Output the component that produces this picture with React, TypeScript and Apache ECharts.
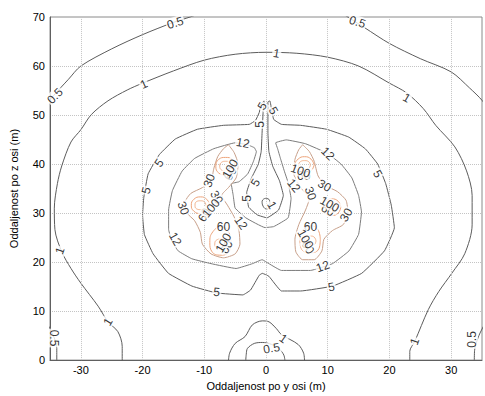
import { useEffect, useRef } from 'react';
import * as echarts from 'echarts';

const xTicks = [-30, -20, -10, 0, 10, 20, 30];
const xRange = [-35, 35];
const yRange = [0, 70];

// contour lines: [y (m), z (m)] points
const c05Top = [[-36, 51.5], [-34.4, 54], [-32, 57.3], [-30, 60], [-25, 63.5], [-20, 66.4], [-15, 68.9], [-12.3, 70], [-10, 71]];
const c05TopR = [[12, 71], [13.5, 69.8], [16, 67.8], [20, 64.6], [25, 61.5], [30, 58.8], [33, 55.5], [35, 53], [36, 51]];
const c05BotL = [[-35.5, 7.5], [-35, 6.4], [-34.3, 4.5], [-33.9, 2.4], [-33.9, -0.5]];
const c05BotR = [[33.75, -0.5], [33.8, 2], [34.5, 5], [35.5, 7.5]];
const c05Mid = [[-3.3, -0.5], [-3.2, 1.2], [-3.0, 2.4], [-1.9, 3.4], [-0.6, 3.6], [0.9, 3.2], [2.2, 2.2], [2.9, 1.0], [3.1, -0.5]];

const c1Outer = [[-23.3, -0.5], [-23.3, 2.8], [-24, 5.8], [-25.6, 7.8], [-27.2, 11], [-30, 15.7], [-31.6, 18.7], [-33.1, 22.1], [-34.2, 26.6], [-34.3, 31], [-33.8, 36], [-33.1, 39.6], [-31.6, 44.5], [-30, 47], [-28.3, 50.1], [-25.6, 52.9], [-22.5, 55.1], [-20, 56.5], [-15, 59], [-10, 61.2], [-5, 62.4], [0, 62.8], [5, 62.6], [10, 61.8], [15, 60], [20, 56.5], [22.8, 54.5], [25.5, 51.3], [27.5, 47.9], [30.6, 43.5], [32.5, 38.6], [33.4, 33.6], [33.4, 27.6], [32.2, 21.7], [30.1, 17.7], [28, 14], [26.3, 10.3], [24.1, 3.8], [23.3, 1.8], [23.3, -0.5]];
const c1Bot = [[-6.1, -0.5], [-5.9, 1.4], [-5, 3.4], [-3.4, 4.8], [-2.2, 7.2], [-0.6, 8], [0.5, 7.8], [1.7, 6.4], [2.5, 5.2], [5.2, 3.2], [6.1, 1.4], [6.25, -0.5]];
const c1Center = [[-0.16, 33.0], [0.47, 32.8], [0.63, 31.8], [0.16, 30.8], [-0.47, 31.4], [-0.63, 32.4]];

const c5 = [[-0.31, 52.88], [-0.47, 50.5], [-0.63, 46.52], [-0.78, 42.54], [-1.25, 39.96], [-2.34, 37.18], [-3.13, 34.19], [-2.81, 31.21], [-1.41, 29.62], [0.16, 29.03], [2.03, 30.62], [2.81, 33.6], [2.19, 36.58], [1.09, 39.56], [0.47, 42.54], [0.31, 46.52], [0.31, 50.5], [0.31, 52.68], [0.63, 52.88], [0.94, 50.9], [1.25, 49.1], [2.5, 48.1], [5.6, 47.9], [9.8, 47.1], [13.4, 45.5], [16.1, 43.1], [18.1, 40.0], [19.4, 36.0], [20.3, 31.6], [20.8, 27.0], [19.2, 22.3], [15.5, 17.7], [10.8, 15.1], [5.6, 14.1], [2.5, 14.1], [0.47, 17.1], [-0.6, 17.7], [-1.1, 17.3], [-2.5, 14.3], [-3.75, 13.3], [-8.0, 13.7], [-12.0, 15.1], [-15.8, 17.7], [-18.3, 21.7], [-19.7, 25.6], [-20.0, 29.6], [-19.8, 33.2], [-19.1, 38.0], [-17.3, 41.9], [-14.7, 45.1], [-11.1, 47.1], [-6.9, 47.9], [-2.7, 48.1], [-1.7, 48.9], [-1.1, 50.5], [-0.78, 52.3]];

const c12 = [[-1.88, 43.34], [-2.97, 43.94], [-5, 44.33], [-8.44, 43.14], [-11.56, 41.15], [-13.59, 38.57], [-15.16, 34.59], [-15.78, 30.62], [-15.78, 26.64], [-15.16, 24.06], [-14.22, 22.27], [-12.03, 20.68], [-8.91, 19.68], [-4.84, 18.69], [-2.19, 19.68], [-0.63, 20.48], [0.47, 19.68], [2.5, 18.29], [7.19, 18.29], [10.78, 19.68], [13.44, 22.27], [15, 25.65], [15.47, 30.22], [15, 33.6], [13.91, 37.18], [12.19, 39.96], [10, 42.15], [6.41, 44.14], [3.28, 44.93], [1.56, 44.33], [1.88, 43.14], [2.34, 41.15], [2.97, 38.57], [3.59, 36.18], [4.06, 33.0], [3.59, 29.03], [1.25, 27.24], [-0.16, 27.04], [-3.28, 29.03], [-5, 31.01], [-5.31, 33.6], [-5.63, 35.98], [-4.38, 36.38], [-2.97, 37.97], [-2.03, 40.56], [-1.56, 42.54]];

const c30L = [[-6.09, 43.94], [-5.16, 42.35], [-4.53, 39.96], [-4.84, 37.18], [-6.09, 35.19], [-7.19, 33.6], [-6.25, 31.61], [-5.16, 29.22], [-4.38, 26.44], [-4.22, 23.66], [-5, 21.67], [-6.88, 20.87], [-8.91, 21.67], [-10.31, 23.66], [-10.63, 26.04], [-11.56, 28.43], [-12.81, 30.02], [-13.13, 32.21], [-12.19, 34.0], [-10.31, 35.19], [-8.91, 36.58], [-8.44, 39.17], [-7.81, 41.55], [-6.88, 43.14]];
const c30R = [[5.94, 43.94], [7.03, 42.54], [7.81, 40.56], [8.44, 37.57], [9.69, 35.59], [11.56, 34.39], [12.97, 32.6], [13.28, 30.02], [12.5, 27.63], [10.78, 26.44], [9.38, 24.65], [9.06, 22.27], [7.81, 20.48], [5.94, 20.48], [4.84, 22.07], [4.69, 24.65], [5.31, 27.63], [6.41, 30.62], [7.03, 33.0], [5.63, 35.19], [4.53, 37.97], [4.69, 40.95], [5.31, 42.94]];

const c60P1 = [[-5, 39.56], [-5.47, 38.17], [-6.56, 37.77], [-7.66, 38.17], [-8.13, 39.56], [-7.66, 40.95], [-6.56, 41.35], [-5.47, 40.95]];
const c60P2 = [[-9.1, 31.6], [-9.6, 30.4], [-10.6, 29.9], [-11.7, 30.4], [-12.1, 31.6], [-11.7, 32.8], [-10.6, 33.3], [-9.6, 32.8]];
const c60P3 = [[-5.7, 24.0], [-5.9, 22.3], [-7.3, 21.4], [-8.8, 22.2], [-9.1, 24.0], [-8.6, 26.2], [-7.2, 27.2], [-6.0, 26.0]];
const c60P4 = [[7.8, 39.8], [7.3, 38.6], [6.25, 38.0], [5.2, 38.6], [4.7, 39.8], [5.2, 41.0], [6.25, 41.5], [7.3, 41.0]];
const c60P5 = [[12.1, 31.2], [11.7, 30.0], [10.6, 29.5], [9.6, 30.0], [9.1, 31.2], [9.6, 32.4], [10.6, 32.9], [11.7, 32.4]];
const c60P6 = [[8.8, 24.6], [8.6, 22.8], [7.2, 21.9], [5.7, 22.8], [5.5, 24.6], [6.0, 26.6], [7.3, 27.4], [8.5, 26.4]];

const c100P1 = [[-5.63, 39.56], [-5.94, 38.77], [-6.56, 38.57], [-7.19, 38.77], [-7.5, 39.56], [-7.19, 40.36], [-6.56, 40.56], [-5.94, 40.36]];
const c100P2 = [[-9.7, 31.6], [-10.0, 30.9], [-10.6, 30.7], [-11.3, 30.9], [-11.5, 31.6], [-11.3, 32.3], [-10.6, 32.5], [-10.0, 32.3]];
const c100P3 = [[-6.4, 23.7], [-6.7, 22.9], [-7.3, 22.7], [-8.0, 22.9], [-8.3, 23.7], [-8.0, 24.5], [-7.3, 24.7], [-6.7, 24.5]];
const c100P4 = [[7.2, 39.8], [6.9, 39.1], [6.25, 38.8], [5.6, 39.1], [5.3, 39.8], [5.6, 40.5], [6.25, 40.7], [6.9, 40.5]];
const c100P5 = [[11.5, 31.2], [11.2, 30.5], [10.6, 30.3], [10.0, 30.5], [9.7, 31.2], [10.0, 31.9], [10.6, 32.1], [11.2, 31.9]];
const c100P6 = [[8.1, 24.3], [7.8, 23.5], [7.2, 23.3], [6.5, 23.5], [6.2, 24.3], [6.5, 25.1], [7.2, 25.3], [7.8, 25.1]];

// contour labels: [y, z, text, rotation]
const contourLabels: [number, number, string, number][] = [
  [-14.7, 68.8, '0.5', 18], [14.8, 69, '0.5', -18], [-34.2, 53.9, '0.5', 45],
  [-34.4, 4.5, '0.5', -90], [33.4, 4.2, '0.5', 90], [0.9, 2.4, '0.5', 10],
  [1.7, 62.6, '1', -10], [-19.8, 56.3, '1', 25], [22.8, 53.5, '1', -30],
  [-33.4, 22.3, '1', 70], [-25.6, 7.8, '1', 60], [24.1, 3.8, '1', 70],
  [2.8, 4.4, '1', -35], [0.94, 31.6, '1', -60],
  [-0.94, 48.1, '5', 90], [-0.6, 51.8, '5', 60], [1.2, 50.9, '5', -60],
  [-17.3, 40.2, '5', 55], [-19.4, 34.6, '5', 75], [-8.0, 13.9, '5', -5],
  [10.6, 14.9, '5', 10], [18.1, 38.0, '5', -60], [-3.0, 33.0, '5', 90], [-1.7, 36.2, '5', 60],
  [-3.75, 44.3, '12', -10], [10, 42.1, '12', -45], [-14.7, 24.7, '12', -60],
  [-4.06, 28.0, '12', -55], [9.2, 19.1, '12', 20], [4.5, 35.6, '12', -50],
  [-9.2, 36.6, '30', 70], [-8.0, 33.2, '30', -60], [-13.4, 31.0, '30', -70],
  [9.5, 35.6, '30', -30], [7.2, 34.0, '30', -70], [13.0, 29.6, '30', 60],
  [-6.9, 27.2, '60', 0], [7.2, 27.2, '60', 0], [-5.8, 38.0, '60', 60],
  [-10.0, 29.6, '60', 60], [-6.4, 23.1, '60', 60], [6.1, 37.6, '60', 0],
  [10.0, 30.6, '60', -30], [6.8, 23.0, '60', -60],
  [-5.8, 39.0, '100', 60], [-8.9, 31.0, '100', 50], [-6.9, 23.9, '100', 60],
  [5.6, 38.6, '100', -20], [10.3, 31.8, '100', -30], [6.4, 24.7, '100', -60],
];

const closeLoop = (a: number[][]) => [...a, a[0]];

export default function App() {
  const ref = useRef<HTMLDivElement>(null);
  useEffect(() => {
    if (!ref.current) return;
    const chart = echarts.init(ref.current, null, { renderer: 'svg' });
    const font = 'Liberation Sans, Arial, sans-serif';
    const line = (data: number[][], color: string, smooth: number, closed = false) => ({
      type: 'line',
      data: closed ? closeLoop(data) : data,
      showSymbol: false,
      symbol: 'none',
      smooth,
      silent: true,
      z: 3,
      lineStyle: { color, width: 1 },
    });
    const g1 = '#5c5c5c';
    const g12 = '#7c7c7c';
    const o30 = '#c8a08a';
    const o60 = '#eea47a';
    const o100 = '#f2b48e';
    chart.setOption({
      animation: false,
      grid: { left: 40, right: -3, top: 17, bottom: 27, show: true, borderColor: '#8a8a8a', borderWidth: 1, containLabel: false },
      xAxis: {
        type: 'value', min: xRange[0], max: xRange[1], interval: 5,
        name: 'Oddaljenost po y osi (m)', nameLocation: 'middle', nameGap: 15,
        nameTextStyle: { fontFamily: font, fontSize: 11, color: '#000' },
        axisLine: { show: true, onZero: false, lineStyle: { color: '#606060' } },
        axisTick: { show: false },
        axisLabel: {
          fontFamily: font, fontSize: 11, color: '#000', margin: 4,
          formatter: (v: number) => (xTicks.includes(v) ? String(v) : ''),
        },
        splitLine: { show: false },
      },
      yAxis: {
        type: 'value', min: yRange[0], max: yRange[1], interval: 10,
        name: 'Oddaljenost po z osi (m)', nameLocation: 'middle', nameGap: 31,
        nameTextStyle: { fontFamily: font, fontSize: 11, color: '#000' },
        axisLine: { show: true, onZero: false, lineStyle: { color: '#606060' } },
        axisTick: { show: false },
        axisLabel: { fontFamily: font, fontSize: 11, color: '#000', margin: 5 },
        splitLine: { show: true, lineStyle: { color: '#c4c4c4', type: 'dotted' } },
      },
      series: [
        {
          type: 'line', data: [], silent: true, z: 1,
          markLine: {
            silent: true, symbol: 'none', label: { show: false },
            lineStyle: { color: '#c4c4c4', type: 'dotted', width: 1 },
            data: xTicks.map((v) => ({ xAxis: v })),
          },
        },
        line(c05Top, g1, 0.3), line(c05TopR, g1, 0.3), line(c05BotL, g1, 0.3), line(c05BotR, g1, 0.3), line(c05Mid, g1, 0.3),
        line(c1Outer, g1, 0.3), line(c1Bot, g1, 0.3), line(c1Center, g1, 0.5, true),
        line(c5, g1, 0.1, true),
        line(c12, g12, 0.1, true),
        line(c30L, o30, 0.2, true), line(c30R, o30, 0.2, true),
        line(c60P1, o60, 0.5, true), line(c60P2, o60, 0.5, true), line(c60P3, o60, 0.5, true),
        line(c60P4, o60, 0.5, true), line(c60P5, o60, 0.5, true), line(c60P6, o60, 0.5, true),
        line(c100P1, o100, 0.5, true), line(c100P2, o100, 0.5, true), line(c100P3, o100, 0.5, true),
        line(c100P4, o100, 0.5, true), line(c100P5, o100, 0.5, true), line(c100P6, o100, 0.5, true),
        {
          type: 'scatter', symbolSize: 1, silent: true, z: 10,
          itemStyle: { color: 'rgba(0,0,0,0)' },
          label: {
            show: true, position: 'inside', fontFamily: font, fontSize: 12, color: '#000',
            backgroundColor: '#fff', padding: [0, 1],
            formatter: (p: any) => p.name,
          },
          labelLayout: { hideOverlap: false },
          data: contourLabels.map(([x, y, t, r]) => ({ value: [x, y], name: t, label: { rotate: r } })),
        },
      ],
    });
    return () => chart.dispose();
  }, []);
  return <div ref={ref} style={{ position: 'fixed', left: 0, top: 0, width: 485, height: 396, background: '#fff' }} />;
}
